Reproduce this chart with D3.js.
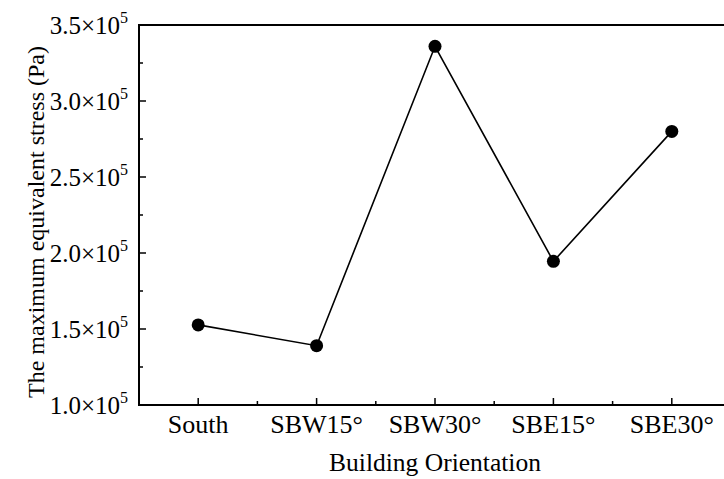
<!DOCTYPE html>
<html>
  <head>
    <meta charset="utf-8">
    <title>Max equivalent stress</title>
    <script src="https://d3js.org/d3.v7.min.js"></script>
  </head>
  <body style="margin:0; background:#fff;">
    <svg id="chart" width="724" height="479" style="display:block;"></svg>
    <script>
      var categories = ["South", "SBW15°", "SBW30°", "SBE15°", "SBE30°"];
      var stress     = [1.527e5, 1.39e5, 3.36e5, 1.945e5, 2.80e5];
      var yTicks     = [1.0e5, 1.5e5, 2.0e5, 2.5e5, 3.0e5, 3.5e5];
      var yMinor     = [1.25e5, 1.75e5, 2.25e5, 2.75e5, 3.25e5];

      var margin = {top: 25, left: 139, bottom: 74};
      var width  = 731 - margin.left;   // right edge runs past the window
      var height = 479 - margin.top - margin.bottom;
      var serif  = "'Liberation Serif'";

      var svg = d3.select("#chart");
      var g = svg.append("g").attr("transform", "translate(" + margin.left + "," + margin.top + ")");

      var x = d3.scaleLinear().domain([0.5, categories.length + 0.5]).range([0, width]);
      var y = d3.scaleLinear().domain([1.0e5, 3.5e5]).range([height, 0]);

      // frame
      g.append("rect")
       .attr("width", width).attr("height", height)
       .attr("fill", "none").attr("stroke", "#000").attr("stroke-width", 2);

      // x ticks (inward)
      var xMajor = categories.map(function(d, i) {return i + 1;});
      var xMinor = d3.range(1.5, categories.length, 1);
      g.selectAll(".xmaj").data(xMajor).enter().append("line")
       .attr("x1", function(d) {return x(d);}).attr("x2", function(d) {return x(d);})
       .attr("y1", height).attr("y2", height - 7)
       .attr("stroke", "#000").attr("stroke-width", 1.5);
      g.selectAll(".xmin").data(xMinor).enter().append("line")
       .attr("x1", function(d) {return x(d);}).attr("x2", function(d) {return x(d);})
       .attr("y1", height).attr("y2", height - 4)
       .attr("stroke", "#000").attr("stroke-width", 1.5);
      g.selectAll(".xlab").data(categories).enter().append("text")
       .style("font-family", serif).style("font-size", "26px")
       .attr("x", function(d, i) {return x(i + 1);})
       .attr("y", height + 28)
       .attr("text-anchor", "middle")
       .text(function(d) {return d;});

      // y ticks (inward)
      g.selectAll(".ymaj").data(yTicks).enter().append("line")
       .attr("x1", 0).attr("x2", 7)
       .attr("y1", function(d) {return y(d);}).attr("y2", function(d) {return y(d);})
       .attr("stroke", "#000").attr("stroke-width", 1.5);
      g.selectAll(".ymin").data(yMinor).enter().append("line")
       .attr("x1", 0).attr("x2", 4)
       .attr("y1", function(d) {return y(d);}).attr("y2", function(d) {return y(d);})
       .attr("stroke", "#000").attr("stroke-width", 1.5);
      var ylab = g.selectAll(".ylab").data(yTicks).enter().append("text")
       .style("font-family", serif).style("font-size", "25px")
       .attr("x", -11)
       .attr("y", function(d) {return y(d) + 9;})
       .attr("text-anchor", "end");
      ylab.append("tspan").text(function(d) {return (d / 1e5).toFixed(1) + "×10";});
      ylab.append("tspan").attr("dy", -11).style("font-size", "16px").text("5");

      // line + markers
      var line = d3.line()
        .x(function(d, i) {return x(i + 1);})
        .y(function(d) {return y(d);});
      g.append("path").datum(stress)
       .attr("d", line).attr("fill", "none")
       .attr("stroke", "#000").attr("stroke-width", 1.6);
      g.selectAll(".dot").data(stress).enter().append("circle")
       .attr("cx", function(d, i) {return x(i + 1);})
       .attr("cy", function(d) {return y(d);})
       .attr("r", 6.5).attr("fill", "#000");

      // axis titles
      svg.append("text")
         .style("font-family", serif).style("font-size", "25.5px")
         .attr("x", margin.left + x(3)).attr("y", 471)
         .attr("text-anchor", "middle")
         .text("Building Orientation");
      svg.append("text")
         .style("font-family", serif).style("font-size", "24px")
         .attr("transform", "translate(44,222) rotate(-90)")
         .attr("text-anchor", "middle")
         .text("The maximum equivalent stress (Pa)");
    </script>
  </body>
</html>
